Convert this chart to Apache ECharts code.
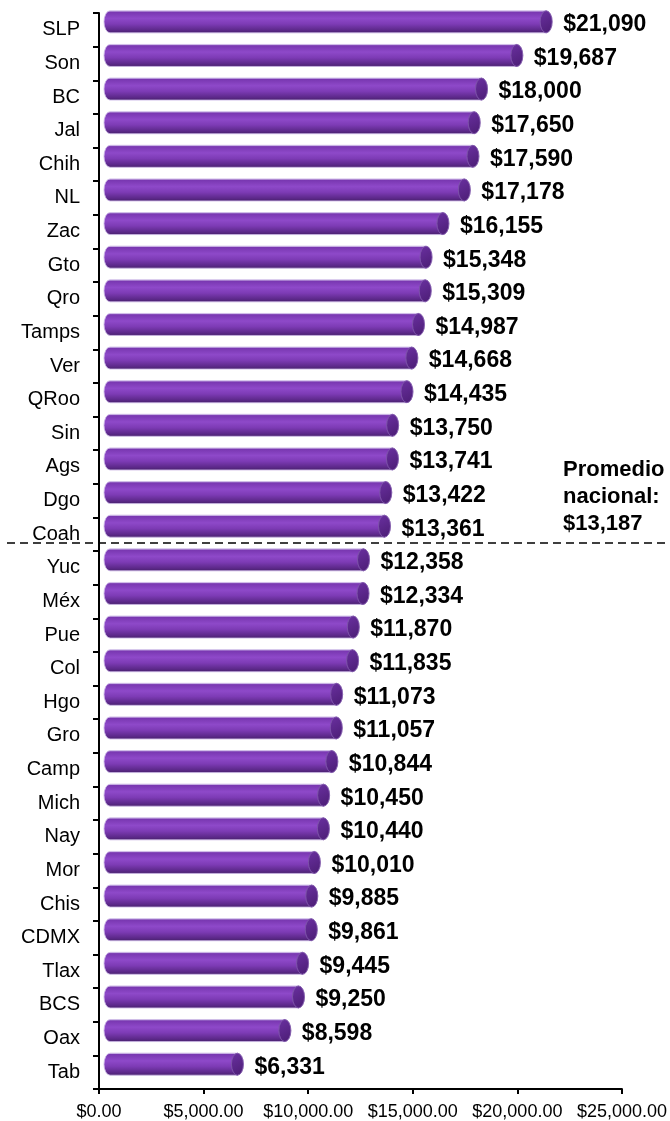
<!DOCTYPE html>
<html>
<head>
<meta charset="utf-8">
<script src="https://cdn.jsdelivr.net/npm/echarts@6/dist/echarts.min.js"></script>
<style>
html,body{margin:0;padding:0;background:#fff;}
#chart{width:670px;height:1121px;}
</style>
</head>
<body>
<div id="chart"></div>
<script>
const categories = ['SLP','Son','BC','Jal','Chih','NL','Zac','Gto','Qro','Tamps','Ver','QRoo','Sin','Ags','Dgo','Coah','Yuc','Méx','Pue','Col','Hgo','Gro','Camp','Mich','Nay','Mor','Chis','CDMX','Tlax','BCS','Oax','Tab'];
const values = [21090,19687,18000,17650,17590,17178,16155,15348,15309,14987,14668,14435,13750,13741,13422,13361,12358,12334,11870,11835,11073,11057,10844,10450,10440,10010,9885,9861,9445,9250,8598,6331];
const averageValue = 13187;
const averageAfterCategory = 'Coah';
const averageLabel = ['Promedio', 'nacional:', '$13,187'];
const xTicks = [0, 5000, 10000, 15000, 20000, 25000];

const FONT = "'Liberation Sans', Arial, sans-serif";
const chart = echarts.init(document.getElementById('chart'));

const fmtMoney = v => '$' + v.toLocaleString('en-US');
const fmtAxis = v => '$' + v.toLocaleString('en-US', {minimumFractionDigits: 2, maximumFractionDigits: 2});

function renderItem(params, api) {
  const v = api.value(0);
  const idx = api.value(1);
  const p0 = api.coord([0, idx]);
  const p1 = api.coord([v, idx]);
  const rx = 6, ry = 11;
  const cy = p0[1] - 8;
  const xl = p0[0] + 11;
  const xr = p1[0] + 6;
  const body = 'M' + xl + ' ' + (cy - ry) + ' L' + xr + ' ' + (cy - ry) +
    ' L' + xr + ' ' + (cy + ry) + ' L' + xl + ' ' + (cy + ry) +
    ' A' + rx + ' ' + ry + ' 0 0 1 ' + xl + ' ' + (cy - ry) + ' Z';
  const cap = 'M' + xr + ' ' + (cy - ry) +
    ' A' + rx + ' ' + ry + ' 0 1 1 ' + xr + ' ' + (cy + ry) +
    ' A' + rx + ' ' + ry + ' 0 1 1 ' + xr + ' ' + (cy - ry) + ' Z';
  return {
    type: 'group',
    children: [
      {
        type: 'path',
        shape: { pathData: body },
        style: {
          fill: new echarts.graphic.LinearGradient(0, 0, 0, 1, [
            { offset: 0, color: '#c3aae2' },
            { offset: 0.07, color: '#7937b1' },
            { offset: 0.35, color: '#8e49c9' },
            { offset: 0.6, color: '#7d3bb5' },
            { offset: 0.88, color: '#5b2888' },
            { offset: 1, color: '#47216b' }
          ]),
          stroke: '#cdb8e6',
          lineWidth: 0.5
        }
      },
      {
        type: 'path',
        shape: { pathData: cap },
        style: {
          fill: new echarts.graphic.LinearGradient(0, 0, 1, 1, [
            { offset: 0, color: '#6a30a0' },
            { offset: 1, color: '#4b1d74' }
          ]),
          stroke: '#7d55aa',
          lineWidth: 0.6
        }
      },
      {
        type: 'text',
        style: {
          text: fmtMoney(v),
          x: xr + rx + 11,
          y: cy + 3,
          verticalAlign: 'middle',
          align: 'left',
          font: 'bold 23px ' + FONT,
          fill: '#000'
        }
      }
    ]
  };
}

const option = {
  animation: false,
  backgroundColor: '#fff',
  grid: { left: 99, right: 48, top: 13, bottom: 31, containLabel: false },
  xAxis: {
    type: 'value',
    min: xTicks[0],
    max: xTicks[xTicks.length - 1],
    interval: xTicks[1] - xTicks[0],
    axisLine: { show: true, lineStyle: { color: '#000', width: 2 } },
    axisTick: { show: true, length: 5, lineStyle: { color: '#000', width: 2 } },
    splitLine: { show: false },
    axisLabel: {
      color: '#000',
      fontFamily: FONT,
      fontSize: 18,
      margin: 14,
      formatter: fmtAxis,
      showMaxLabel: true,
      showMinLabel: true
    }
  },
  yAxis: {
    type: 'category',
    data: categories,
    inverse: true,
    axisLine: { show: true, lineStyle: { color: '#000', width: 2 } },
    axisTick: { show: true, length: 6, lineStyle: { color: '#000', width: 2 } },
    axisLabel: {
      color: '#000',
      fontFamily: FONT,
      fontSize: 20,
      margin: 19,
      interval: 0
    }
  },
  series: [{
    type: 'custom',
    renderItem: renderItem,
    clip: false,
    encode: { x: 0, y: 1 },
    data: values.map((v, i) => [v, i]),
    z: 3
  }]
};

chart.setOption(option);

const ci = categories.indexOf(averageAfterCategory);
const yA = chart.convertToPixel({ yAxisIndex: 0 }, ci);
const yB = chart.convertToPixel({ yAxisIndex: 0 }, ci + 1);
const yLine = (yA + yB) / 2 - 8;

chart.setOption({
  graphic: [
    {
      type: 'line',
      shape: { x1: 7, y1: yLine, x2: 670, y2: yLine },
      style: { stroke: '#000', lineWidth: 1.5, lineDash: [8, 5] },
      z: 10
    },
    {
      type: 'text',
      left: 563,
      top: yLine - 87,
      style: {
        text: averageLabel.join('\n'),
        font: 'bold 22px ' + FONT,
        lineHeight: 27,
        fill: '#000'
      },
      z: 10
    }
  ]
});
</script>
</body>
</html>
